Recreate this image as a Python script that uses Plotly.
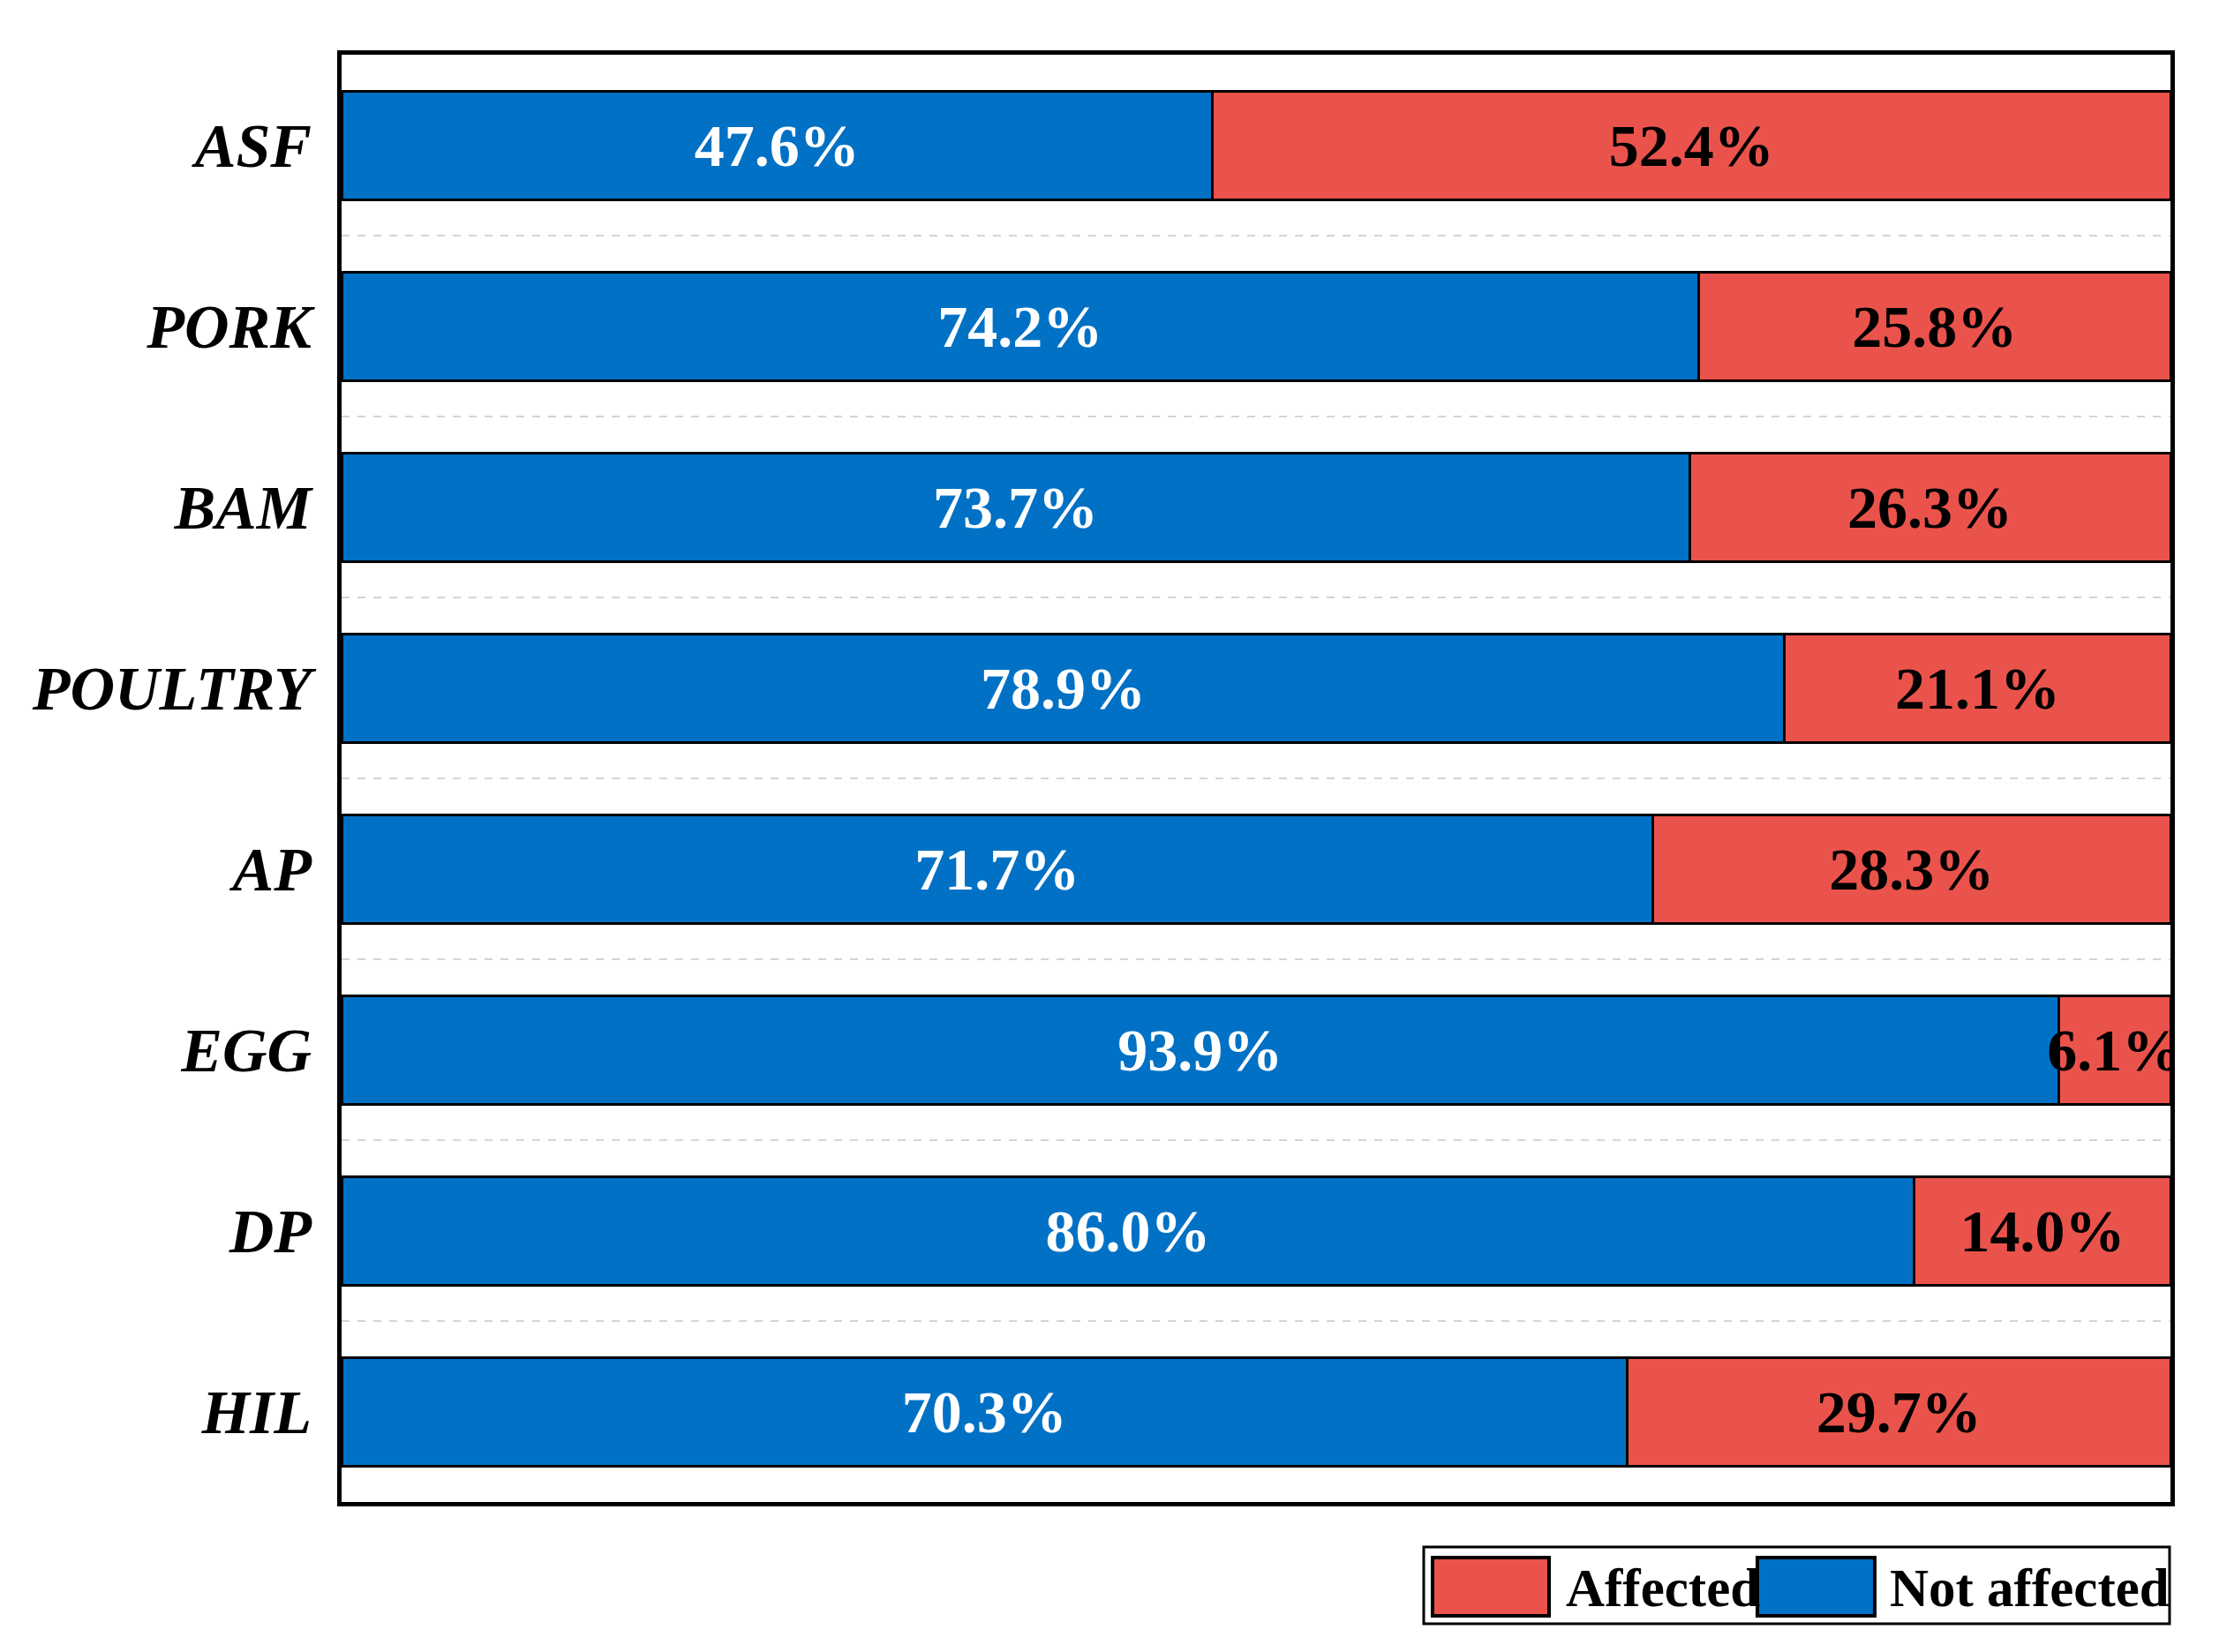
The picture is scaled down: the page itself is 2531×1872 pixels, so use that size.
import plotly.graph_objects as go

categories = ["ASF", "PORK", "BAM", "POULTRY", "AP", "EGG", "DP", "HIL"]
not_affected = [47.6, 74.2, 73.7, 78.9, 71.7, 93.9, 86.0, 70.3]
affected = [52.4, 25.8, 26.3, 21.1, 28.3, 6.1, 14.0, 29.7]
series_names = ["Not affected", "Affected"]

BLUE = "#0071C5"
RED = "#EA534B"
FONT = "Liberation Serif"

W, H = 2531, 1872
ML, MR, MT, MB = 379, 80, 54, 178

fig = go.Figure()
fig.add_trace(go.Bar(
    y=categories, x=not_affected, orientation="h", name=series_names[0],
    marker=dict(color=BLUE, line=dict(color="black", width=3)),
    text=[f"{v:.1f}%" for v in not_affected], textposition="inside",
    insidetextanchor="middle", constraintext="none",
    textfont=dict(family=FONT, size=68, color="white", weight="bold"),
    showlegend=False,
))
fig.add_trace(go.Bar(
    y=categories, x=affected, orientation="h", name=series_names[1],
    marker=dict(color=RED, line=dict(color="black", width=3)),
    text=[f"{v:.1f}%" for v in affected], textposition="inside",
    insidetextanchor="middle", constraintext="none",
    textfont=dict(family=FONT, size=68, color="black", weight="bold"),
    showlegend=False,
))

# custom legend (pixel -> paper conversion)
pw, ph = W - ML - MR, H - MT - MB
def px(x):
    return (x - ML) / pw
def py(y):
    return (H - MB - y) / ph

shapes = [
    dict(type="rect", xref="paper", yref="paper", x0=px(1605), x1=px(2450), y0=py(1832), y1=py(1745),
         line=dict(color="black", width=3), fillcolor="white"),
    dict(type="rect", xref="paper", yref="paper", x0=px(1615), x1=px(1747), y0=py(1823), y1=py(1757),
         line=dict(color="black", width=4), fillcolor=RED),
    dict(type="rect", xref="paper", yref="paper", x0=px(1983), x1=px(2116), y0=py(1823), y1=py(1757),
         line=dict(color="black", width=4), fillcolor=BLUE),
]
annotations = [
    dict(xref="paper", yref="paper", x=px(1764), y=py(1791), text=series_names[1], showarrow=False,
         xanchor="left", yanchor="middle", font=dict(family=FONT, size=61, color="black", weight="bold")),
    dict(xref="paper", yref="paper", x=px(2131), y=py(1791), text=series_names[0], showarrow=False,
         xanchor="left", yanchor="middle", font=dict(family=FONT, size=61, color="black", weight="bold")),
]

fig.update_layout(
    width=W, height=H,
    barmode="stack", bargap=0.4,
    plot_bgcolor="white", paper_bgcolor="white",
    margin=dict(l=ML, r=MR, t=MT, b=MB, autoexpand=False),
    shapes=shapes, annotations=annotations,
    showlegend=False,
)
fig.update_xaxes(range=[0, 100], showticklabels=False, ticks="", showgrid=False, zeroline=False,
                 showline=True, linecolor="black", linewidth=5, mirror=True, automargin=False)
fig.update_yaxes(type="category", categoryorder="array", categoryarray=categories, autorange="reversed",
                 showline=True, linecolor="black", linewidth=5, mirror=True, automargin=False,
                 tickson="boundaries", showgrid=True, griddash="dash", gridcolor="#d4d4d4", gridwidth=2,
                 ticks="", ticklabelstandoff=15,
                 tickfont=dict(family=FONT, size=70, color="black", weight="bold", style="italic"))

fig.write_html("out.html")
